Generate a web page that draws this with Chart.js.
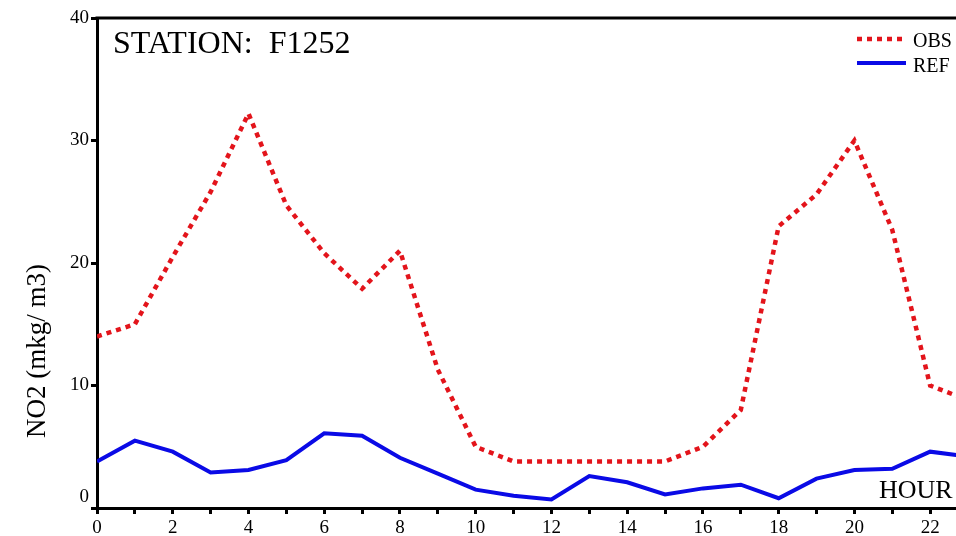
<!DOCTYPE html>
<html>
<head>
<meta charset="utf-8">
<script src="https://cdn.jsdelivr.net/npm/chart.js@4"></script>
<style>
  html, body { margin: 0; padding: 0; background: #fff; overflow: hidden; }
  #wrap { width: 980px; height: 536px; }
</style>
</head>
<body>
<div id="wrap"><canvas id="chart" width="980" height="536"></canvas></div>
<script>
const hours = [0, 1, 2, 3, 4, 5, 6, 7, 8, 9, 10, 11, 12, 13, 14, 15, 16, 17, 18, 19, 20, 21, 22, 23];
const obs = [14.0, 15.0, 20.5, 25.8, 32.2, 24.7, 20.8, 17.9, 21.0, 11.3, 5.0, 3.8, 3.8, 3.8, 3.8, 3.8, 5.0, 8.0, 23.0, 25.6, 30.0, 22.7, 10.0, 8.8];
const ref = [3.8, 5.5, 4.6, 2.9, 3.1, 3.9, 6.1, 5.9, 4.1, 2.8, 1.5, 1.0, 0.7, 2.6, 2.1, 1.1, 1.6, 1.9, 0.8, 2.4, 3.1, 3.2, 4.6, 4.2];
const yTicks = [0, 10, 20, 30, 40];

const SERIF = '"Liberation Serif", "DejaVu Serif", serif';
const RED = '#e3141b';
const BLUE = '#0a0ae6';

const toPoints = (vals) => vals.map((v, i) => ({ x: hours[i], y: v }));

// frame top line, titles, legend
const decorations = {
  id: 'decorations',
  afterDraw(chart) {
    const { ctx, chartArea: a } = chart;
    ctx.save();
    ctx.strokeStyle = '#000';
    ctx.lineWidth = 3;
    ctx.beginPath();
    ctx.moveTo(a.left - 1.5, a.top);
    ctx.lineTo(a.right, a.top);
    ctx.stroke();

    ctx.fillStyle = '#000';
    ctx.textBaseline = 'alphabetic';
    ctx.font = '32px ' + SERIF;
    ctx.fillText('STATION:  F1252', a.left + 16, a.top + 35);

    ctx.font = '26px ' + SERIF;
    ctx.fillText('HOUR', 879, a.bottom - 10);

    // legend
    const items = [
      { label: 'OBS', ds: chart.data.datasets[0], y: 39, ty: 47 },
      { label: 'REF', ds: chart.data.datasets[1], y: 63, ty: 72 },
    ];
    ctx.font = '20px ' + SERIF;
    items.forEach((it) => {
      ctx.strokeStyle = it.ds.borderColor;
      ctx.lineWidth = it.ds.borderWidth;
      ctx.setLineDash(it.ds.borderDash || []);
      ctx.beginPath();
      ctx.moveTo(857, it.y);
      ctx.lineTo(906, it.y);
      ctx.stroke();
      ctx.setLineDash([]);
      ctx.fillText(it.label, 913, it.ty);
    });

    ctx.translate(38, 351);
    ctx.rotate(-Math.PI / 2);
    ctx.textAlign = 'center';
    ctx.textBaseline = 'middle';
    ctx.font = '27px ' + SERIF;
    ctx.fillText('NO2 (mkg/ m3)', 0, 0);
    ctx.restore();
  },
};

new Chart(document.getElementById('chart'), {
  type: 'line',
  data: {
    datasets: [
      {
        label: 'OBS',
        data: toPoints(obs),
        borderColor: RED,
        borderWidth: 4.5,
        borderDash: [5, 5],
        borderCapStyle: 'butt',
        pointRadius: 0,
        tension: 0,
      },
      {
        label: 'REF',
        data: toPoints(ref),
        borderColor: BLUE,
        borderWidth: 4,
        pointRadius: 0,
        tension: 0,
      },
    ],
  },
  options: {
    responsive: false,
    animation: false,
    layout: { padding: { top: 18, right: 12, left: 0, bottom: 0 } },
    plugins: { legend: { display: false }, tooltip: { enabled: false } },
    scales: {
      x: {
        type: 'linear',
        min: hours[0],
        max: hours[hours.length - 1],
        afterFit: (s) => { s.height = 28; },
        border: { color: '#000', width: 3 },
        grid: { drawOnChartArea: false, color: '#000', tickLength: 6, tickWidth: 3 },
        ticks: {
          stepSize: 1,
          autoSkip: false,
          maxRotation: 0,
          padding: 3,
          color: '#000',
          font: { family: SERIF, size: 19 },
          callback: (v) => (v % 2 === 0 ? String(v) : ''),
        },
      },
      y: {
        min: yTicks[0],
        max: yTicks[yTicks.length - 1],
        afterFit: (s) => { s.width = 97; },
        afterBuildTicks: (s) => { s.ticks = yTicks.map((v) => ({ value: v })); },
        border: { color: '#000', width: 3 },
        grid: { drawOnChartArea: false, color: '#000', tickLength: 6, tickWidth: 3 },
        ticks: {
          padding: 2,
          color: '#000',
          font: { family: SERIF, size: 19 },
          // the zero label sits above its tick in the reference
          callback: (v) => (v === 0 ? ['0', ''] : String(v)),
        },
      },
    },
  },
  plugins: [decorations],
});
</script>
</body>
</html>
